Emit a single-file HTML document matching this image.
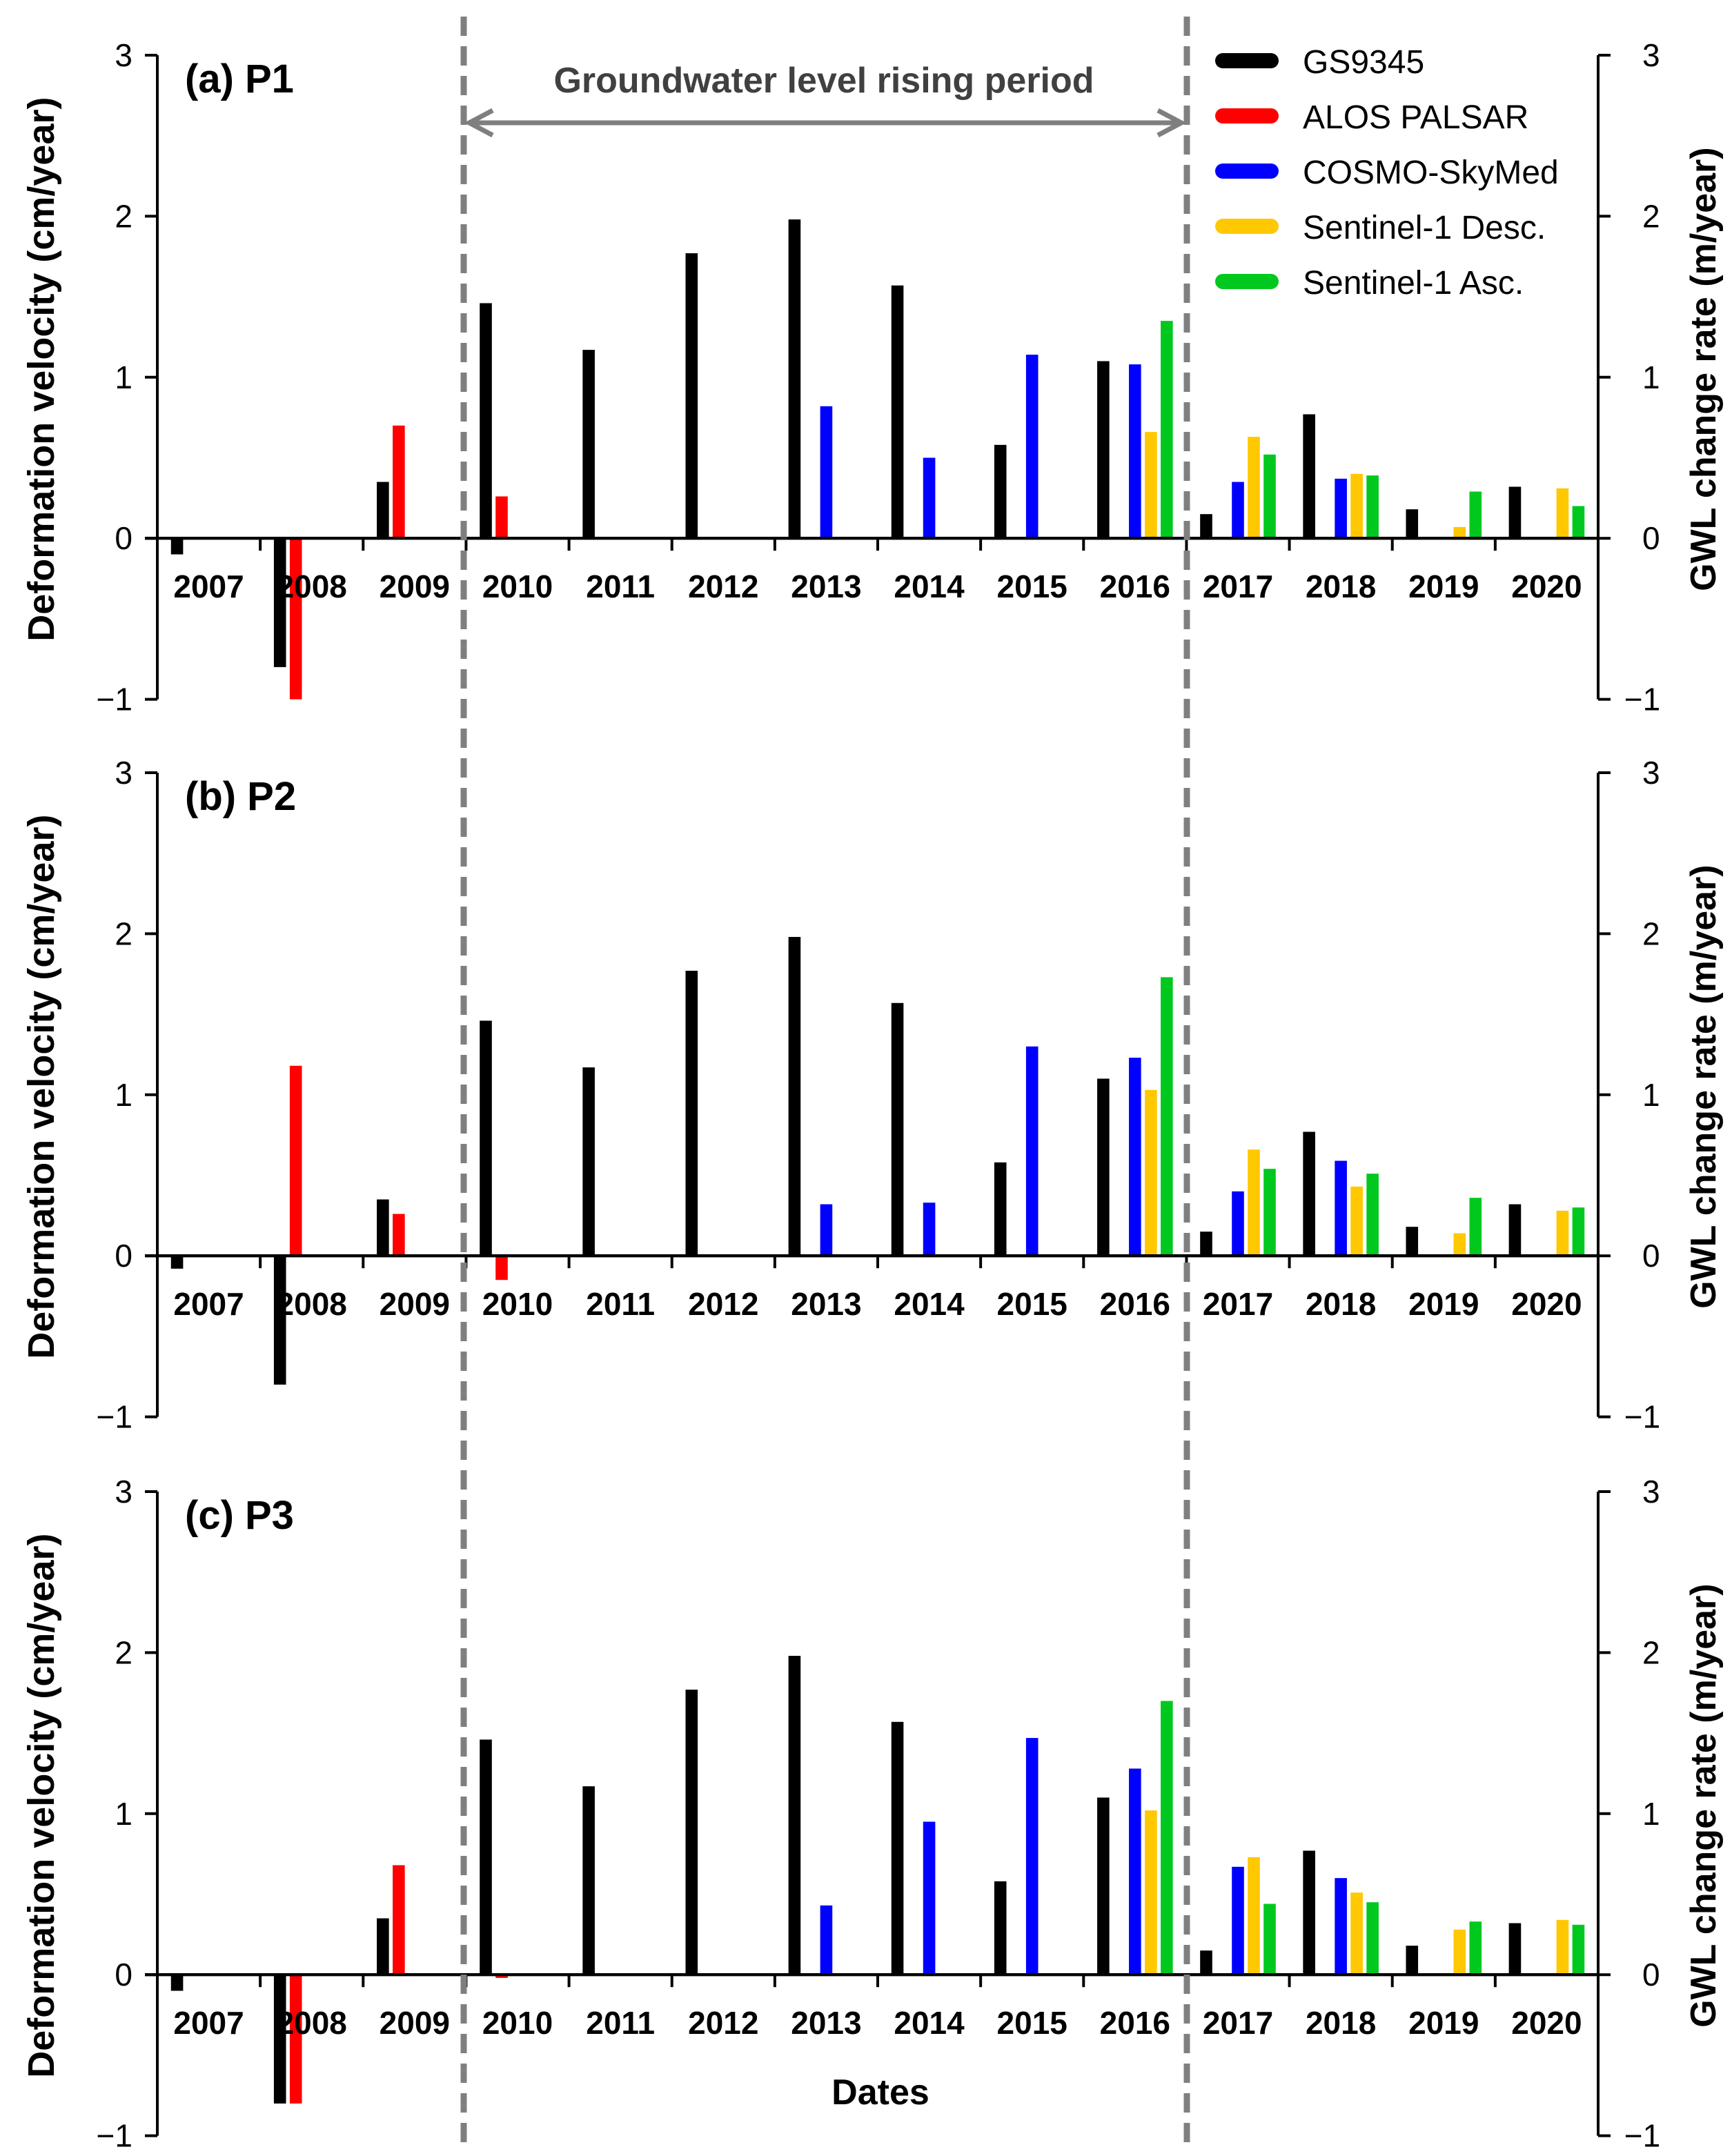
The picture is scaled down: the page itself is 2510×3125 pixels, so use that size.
<!DOCTYPE html>
<html><head><meta charset="utf-8"><style>
html,body{margin:0;padding:0;background:#fff;}
svg{display:block;font-family:"Liberation Sans",Arial,sans-serif;}
</style></head><body>
<svg id="chart" width="2510" height="3125" viewBox="0 0 1255 1562.5" xmlns="http://www.w3.org/2000/svg"></svg>
<script>
const years=['2007','2008','2009','2010','2011','2012','2013','2014','2015','2016','2017','2018','2019','2020'];
const yTicks=[3,2,1,0,-1];
const panelTitles=['(a) P1','(b) P2','(c) P3'];
const seriesNames=['GS9345','ALOS PALSAR','COSMO-SkyMed','Sentinel-1 Desc.','Sentinel-1 Asc.'];
const seriesColors=['#000000','#ff0000','#0000ff','#ffc800','#00c81e'];
// values per year (null = no bar)
const gsA=[-0.1,-0.8,0.35,1.46,1.17,1.77,1.98,1.57,0.58,1.1,0.15,0.77,0.18,0.32];
const alosA=[null,-1.0,0.7,0.26,null,null,null,null,null,null,null,null,null,null];
const csmA=[null,null,null,null,null,null,0.82,0.5,1.14,1.08,0.35,0.37,null,null];
const s1dA=[null,null,null,null,null,null,null,null,null,0.66,0.63,0.4,0.07,0.31];
const s1aA=[null,null,null,null,null,null,null,null,null,1.35,0.52,0.39,0.29,0.2];
const gsB=[-0.08,-0.8,0.35,1.46,1.17,1.77,1.98,1.57,0.58,1.1,0.15,0.77,0.18,0.32];
const alosB=[null,1.18,0.26,-0.15,null,null,null,null,null,null,null,null,null,null];
const csmB=[null,null,null,null,null,null,0.32,0.33,1.3,1.23,0.4,0.59,null,null];
const s1dB=[null,null,null,null,null,null,null,null,null,1.03,0.66,0.43,0.14,0.28];
const s1aB=[null,null,null,null,null,null,null,null,null,1.73,0.54,0.51,0.36,0.3];
const gsC=[-0.1,-0.8,0.35,1.46,1.17,1.77,1.98,1.57,0.58,1.1,0.15,0.77,0.18,0.32];
const alosC=[null,-0.8,0.68,-0.02,null,null,null,null,null,null,null,null,null,null];
const csmC=[null,null,null,null,null,null,0.43,0.95,1.47,1.28,0.67,0.6,null,null];
const s1dC=[null,null,null,null,null,null,null,null,null,1.02,0.73,0.51,0.28,0.34];
const s1aC=[null,null,null,null,null,null,null,null,null,1.7,0.44,0.45,0.33,0.31];
const panels=[[gsA,alosA,csmA,s1dA,s1aA],[gsB,alosB,csmB,s1dB,s1aB],[gsC,alosC,csmC,s1dC,s1aC]];

const NS='http://www.w3.org/2000/svg';
const svg=document.getElementById('chart');
function mk(tag,attrs,parent){const e=document.createElementNS(NS,tag);for(const k in attrs)e.setAttribute(k,attrs[k]);(parent||svg).appendChild(e);return e;}
const X0=114,X1=1158,step=(X1-X0)/years.length;
const slotOff=[-23,-11.5,0,11.5,23],barW=8.8;
function xC(i){return X0+step*(i+0.5);}
const panelTop=[40,560,1081],unit=116.7;
panels.forEach((ser,p)=>{
  const top=panelTop[p];
  const y=v=>top+(3-v)*unit;
  const g=mk('g',{});
  
  
  const la=mk('line',{x1:X0,y1:y(3),x2:X0,y2:y(-1),stroke:'#000','stroke-width':2},g);
  
  const ra=mk('line',{x1:X1,y1:y(3),x2:X1,y2:y(-1),stroke:'#000','stroke-width':2},g);
  
  yTicks.forEach(t=>{
    mk('line',{x1:X0-9,y1:y(t),x2:X0,y2:y(t),stroke:'#000','stroke-width':2},g);
    mk('line',{x1:X1,y1:y(t),x2:X1+9,y2:y(t),stroke:'#000','stroke-width':2},g);
    const lt=mk('text',{x:X0-18,y:y(t)+8,'font-size':23,'text-anchor':'end'},g);
    lt.textContent=t<0?'\u2212'+(-t):t;
    
    const rt=mk('text',{x:X1+32,y:y(t)+8,'font-size':23,'text-anchor':t<0?'middle':'start'},g);
    rt.textContent=t<0?'\u2212'+(-t):t;
    
  });
  ser.forEach((vals,s)=>{
    vals.forEach((v,i)=>{
      if(v===null)return;
      const x=xC(i)+slotOff[s]-barW/2;
      const r=mk('rect',{x:x,y:Math.min(y(v),y(0)),width:barW,height:Math.abs(y(v)-y(0)),fill:seriesColors[s]},g);
      
      
    });
  });
  const zl=mk('line',{x1:X0-9,y1:y(0),x2:X1,y2:y(0),stroke:'#000','stroke-width':2.2},g);
  
  for(let i=1;i<years.length;i++){
    mk('line',{x1:X0+step*i,y1:y(0),x2:X0+step*i,y2:y(0)+9,stroke:'#000','stroke-width':2},g);
  }
  years.forEach((yr,i)=>{
    const t=mk('text',{x:xC(i),y:y(0)+43,'font-size':23,'font-weight':'bold','text-anchor':'middle'},g);
    t.textContent=yr;
    
  });
  const tt=mk('text',{x:134,y:top+27,'font-size':29,'font-weight':'bold'},g);
  tt.textContent=panelTitles[p];
  
  const cy=y(1.05);
  const lt=mk('text',{x:39,y:cy,'font-size':27,'font-weight':'bold','text-anchor':'middle',transform:'rotate(-90 39 '+cy+')'},g);
  lt.textContent='Deformation velocity (cm/year)';
  
  const rt=mk('text',{x:1243,y:cy,'font-size':26,'font-weight':'bold','text-anchor':'middle',transform:'rotate(-90 1243 '+cy+')'},g);
  rt.textContent='GWL change rate (m/year)';
  
});
[336,860].forEach((x,k)=>{
  const d=mk('line',{x1:x,y1:12,x2:x,y2:1558,stroke:'#7f7f7f','stroke-width':4.5,'stroke-dasharray':'14 7.5'});
  
  
});
const ar=mk('g',{});

mk('line',{x1:340,y1:89,x2:856,y2:89,stroke:'#7f7f7f','stroke-width':3.5},ar);
mk('polyline',{points:'357,80 340,89 357,98',fill:'none',stroke:'#7f7f7f','stroke-width':3.5},ar);
mk('polyline',{points:'839,80 856,89 839,98',fill:'none',stroke:'#7f7f7f','stroke-width':3.5},ar);
const pt=mk('text',{x:597,y:67,'font-size':26,'font-weight':'bold','text-anchor':'middle',fill:'#404040'});
pt.textContent='Groundwater level rising period';

seriesNames.forEach((n,i)=>{
  const ly=44+40*i;
  const g=mk('g',{});
  
  mk('line',{x1:886,y1:ly,x2:921,y2:ly,stroke:seriesColors[i],'stroke-width':11,'stroke-linecap':'round'},g);
  const t=mk('text',{x:944,y:ly+9,'font-size':24},g);t.textContent=n;
});
const dt=mk('text',{x:638,y:1525,'font-size':26,'font-weight':'bold','text-anchor':'middle'});
dt.textContent='Dates';

</script>
</body></html>
